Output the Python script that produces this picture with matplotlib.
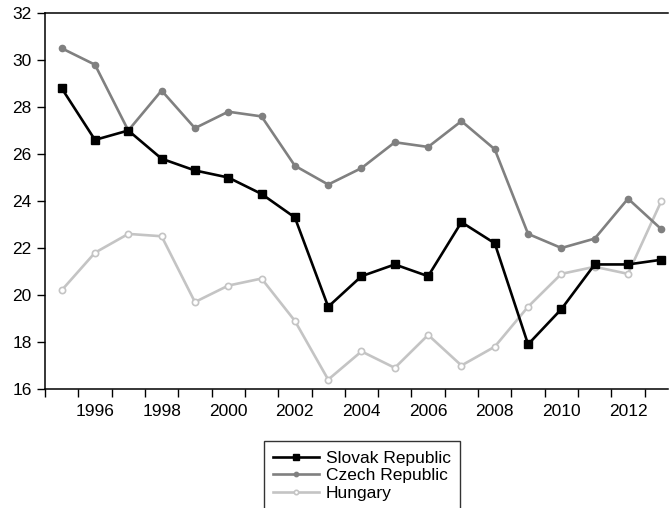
import matplotlib
matplotlib.use("Agg")
import matplotlib.pyplot as plt
from matplotlib.ticker import FixedLocator

plt.rcParams["font.family"] = ["Liberation Sans", "DejaVu Sans"]

years = list(range(1995, 2014))
slovak = [28.8, 26.6, 27.0, 25.8, 25.3, 25.0, 24.3, 23.3, 19.5, 20.8,
          21.3, 20.8, 23.1, 22.2, 17.9, 19.4, 21.3, 21.3, 21.5]
czech = [30.5, 29.8, 27.0, 28.7, 27.1, 27.8, 27.6, 25.5, 24.7, 25.4,
         26.5, 26.3, 27.4, 26.2, 22.6, 22.0, 22.4, 24.1, 22.8]
hungary = [20.2, 21.8, 22.6, 22.5, 19.7, 20.4, 20.7, 18.9, 16.4, 17.6,
           16.9, 18.3, 17.0, 17.8, 19.5, 20.9, 21.2, 20.9, 24.0]
year_labels = [1996, 1998, 2000, 2002, 2004, 2006, 2008, 2010, 2012]
y_ticks = [16, 18, 20, 22, 24, 26, 28, 30, 32]

fig = plt.figure(figsize=(6.69, 5.08), dpi=100)
ax = fig.add_axes([45 / 669, 1 - 389 / 508, (668 - 45) / 669, (389 - 13) / 508])

ax.plot(years, slovak, color="black", lw=1.9, marker="s", ms=5.5,
        label="Slovak Republic", zorder=3)
ax.plot(years, czech, color="#808080", lw=1.9, marker="o", ms=4.5,
        label="Czech Republic", zorder=2)
ax.plot(years, hungary, color="#c4c4c4", lw=1.9, marker="o", ms=4.5,
        mfc="white", mec="#c4c4c4", mew=1.2, label="Hungary", zorder=1)

ax.set_xlim(1994.5, 2013.2)
ax.set_ylim(16, 32)
ax.set_yticks(y_ticks)
ax.set_xticks(year_labels)
ax.set_xticklabels([str(y) for y in year_labels])
ax.xaxis.set_minor_locator(FixedLocator([y + 0.5 for y in range(1994, 2013)]))

ax.tick_params(axis="x", which="major", length=0, pad=11, labelsize=12.5)
ax.tick_params(axis="x", which="minor", length=5.5, width=1, direction="out")
ax.tick_params(axis="y", length=5.5, width=1, pad=4, labelsize=12.5)

ax.spines["right"].set_visible(False)
for s in ["left", "bottom", "top"]:
    ax.spines[s].set_linewidth(1.1)

fig.legend(loc="upper center", bbox_to_anchor=(362 / 669, 1 - 441 / 508),
           fontsize=12.5, frameon=True, fancybox=False, edgecolor="black",
           handlelength=2.6, handletextpad=0.4, labelspacing=0.15,
           borderpad=0.55, borderaxespad=0, markerscale=0.7)

fig.savefig("out.png", dpi=100)
